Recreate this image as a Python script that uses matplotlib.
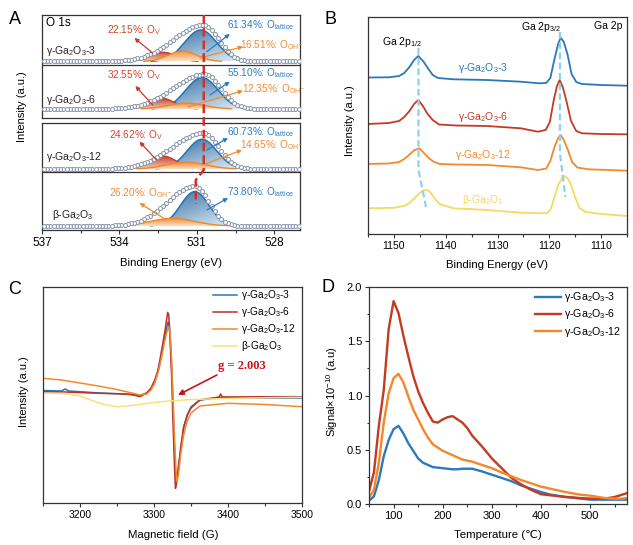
import numpy as np
import matplotlib
matplotlib.use("Agg")
import matplotlib.pyplot as plt
from matplotlib.patches import Polygon
from matplotlib.lines import Line2D
from matplotlib.ticker import MultipleLocator
from matplotlib.transforms import blended_transform_factory
from matplotlib.colors import to_rgb

plt.rcParams["font.family"] = ["Liberation Sans", "DejaVu Sans"]
plt.rcParams["mathtext.fontset"] = "custom"
plt.rcParams["mathtext.rm"] = "Liberation Sans"
plt.rcParams["mathtext.it"] = "Liberation Sans:italic"
plt.rcParams["mathtext.bf"] = "Liberation Sans:bold"
plt.rcParams["axes.linewidth"] = 0.9
plt.rcParams["axes.edgecolor"] = "#333333"


def ga(prefix, suffix=""):
    return prefix + "-Ga$_\\mathregular{2}$O$_\\mathregular{3}$" + suffix


names = [ga("γ", "-3"), ga("γ", "-6"), ga("γ", "-12"), ga("β")]

# ---- A: O 1s XPS fits (peak centre eV, height, width) ----
o1s_base = [56.5, 9, 61, 4]
o1s_group = [0, 0, 1, 1]
env_center = [530.75, 530.7, 530.75, 531.08]
env_height = [36.5, 35, 36, 40]
env_wl = [1.15, 1.2, 1.2, 1.05]
env_wr = [0.6, 0.62, 0.6, 0.55]
latt_center = [530.85, 530.8, 530.8, 531.08]
latt_height = [31.5, 31.5, 29.7, 34.3]
latt_width = [0.62, 0.62, 0.58, 0.55]
ov_center = [532.3, 532.36, 532.33, 532.3]
ov_height = [9.2, 10.7, 13, 0]
ov_width = [0.5, 0.5, 0.55, 0.5]
oh_center = [531.55, 531.4, 531.4, 531.93]
oh_height = [10.5, 6, 7, 7.7]
oh_width = [0.55, 0.7, 0.75, 0.85]
pct_ov = ["22.15%", "32.55%", "24.62%", None]
pct_latt = ["61.34%", "55.10%", "60.73%", "73.80%"]
pct_oh = ["16.51%", "12.35%", "14.65%", "26.20%"]

# ---- B: Ga 2p XPS ----
b3_e = [1155, 1151, 1149, 1148, 1147, 1146.1, 1145.3, 1144.3, 1143.4, 1142.5, 1141.5, 1138.5, 1132,
        1125.5, 1122, 1120.6, 1119.8, 1119, 1118.3, 1117.8, 1117.2, 1116.5, 1115.7, 1114.8, 1113.7, 1110, 1105]
b3_i = [156.5, 156.7, 158, 161, 167, 174, 178, 172.5, 165.5, 159, 156, 154.7, 154,
        152.3, 150.7, 151, 156, 175, 190, 196.3, 192, 180, 160, 152, 150, 149, 148.3]
b6_e = [1155, 1151, 1149, 1148, 1147, 1146.1, 1145.3, 1144.4, 1143.5, 1142.5, 1141.3, 1138, 1132,
        1125.5, 1122.2, 1120.7, 1119.9, 1119.1, 1118.5, 1118, 1117.4, 1116.7, 1115.8, 1114.8, 1113.7, 1110, 1105]
b6_i = [110, 111, 113, 117, 123, 130, 134, 128, 120, 114, 109.5, 108.5, 108,
        105.7, 102.3, 104, 112, 135, 148, 154, 147, 133, 113, 103, 100.7, 100, 99.7]
b12_e = [1155, 1151, 1149, 1148, 1147, 1146, 1145.1, 1144.2, 1143.3, 1142.4, 1141.2, 1138, 1132,
         1125.5, 1122.2, 1120.6, 1119.8, 1119, 1118.3, 1117.8, 1117.2, 1116.4, 1115.6, 1114.6, 1112.4, 1105]
b12_i = [70, 70.5, 72, 75, 79.5, 84, 85.7, 81, 76, 72.5, 70, 69.5, 69,
         66.7, 64, 65.5, 73, 87, 96, 99, 94, 84, 72, 66.5, 64.7, 63.3]
bb_e = [1155, 1150, 1148, 1147, 1146, 1145, 1144.3, 1143.7, 1143, 1142.2, 1141.2, 1138.5, 1132,
        1125.5, 1120.5, 1119.7, 1119, 1118.3, 1117.6, 1117.1, 1116.5, 1115.9, 1115.1, 1114.2, 1113, 1110, 1105]
bb_i = [25.7, 26.2, 28, 31, 36, 41, 43.5, 44, 42, 36, 30, 25.7, 24,
        21.3, 20.7, 25, 37, 49, 55.5, 58, 56, 50.7, 38, 26, 22, 20, 18]

# ---- C: EPR ----
c3_g = [3150, 3175, 3180, 3185, 3227, 3260, 3275, 3281, 3290, 3296, 3301, 3305, 3308, 3312, 3315, 3319,
        3321, 3323, 3325, 3327, 3329, 3330, 3332, 3336, 3340, 3345, 3350, 3362, 3390, 3450, 3500]
c3_i = [112.5, 112, 114, 112, 110, 109, 108.5, 107.5, 110, 114, 121, 130, 140, 156, 168, 181,
        175, 150, 115, 70, 30, 23, 30, 52, 75, 88, 96, 103, 105.5, 105, 105]
c6_g = [3150, 3180, 3227, 3260, 3272, 3281, 3290, 3296, 3301, 3305, 3308, 3312, 3315, 3318.5, 3320,
        3322, 3324, 3326, 3328, 3329, 3330.5, 3333, 3336, 3340, 3345, 3350, 3362, 3388, 3390, 3392, 3450, 3500]
c6_i = [111.3, 111, 109.7, 109, 108, 106.3, 110, 115, 123, 132, 143, 160, 173, 190.7, 188,
        160, 123, 73, 30, 14.7, 20, 36, 55, 76, 88, 95, 103, 106, 109, 106, 106.3, 106.3]
c12_g = [3150, 3175, 3200, 3225, 3250, 3270, 3281, 3290, 3296, 3301, 3306, 3310, 3314, 3317, 3320,
         3322, 3324, 3326, 3328, 3330, 3331, 3333, 3336, 3340, 3345, 3350, 3362, 3400, 3450, 3500]
c12_i = [124.7, 123, 120, 117, 113.5, 110, 108, 109, 113, 120, 132, 145, 160, 170, 176.3,
         168, 140, 100, 60, 28, 21.3, 28, 48, 68, 82, 90, 97, 99.7, 98.5, 96.3]
cb_g = [3150, 3180, 3200, 3215, 3230, 3250, 3270, 3300, 3320, 3350, 3400, 3450, 3500]
cb_i = [109.7, 109.5, 107, 103, 99, 96.3, 97.5, 100.5, 102, 103.5, 104.5, 105.3, 105.7]

# ---- D: TPD ----
tpd_t = [50, 60, 70, 80, 90, 100, 110, 120, 130, 140, 150, 160, 170, 180, 190, 200, 210, 220, 230,
         240, 250, 260, 280, 300, 320, 340, 360, 380, 400, 420, 450, 480, 500, 530, 550, 565, 575]
tpd_3 = [0.03, 0.07, 0.22, 0.44, 0.59, 0.69, 0.72, 0.65, 0.56, 0.49, 0.42, 0.38, 0.36, 0.34, 0.335,
         0.33, 0.325, 0.32, 0.32, 0.325, 0.325, 0.325, 0.30, 0.27, 0.24, 0.21, 0.17, 0.14, 0.11,
         0.086, 0.065, 0.05, 0.04, 0.04, 0.04, 0.04, 0.04]
tpd_6 = [0.117, 0.29, 0.72, 1.05, 1.61, 1.87, 1.76, 1.55, 1.36, 1.18, 1.04, 0.93, 0.84, 0.76, 0.75,
         0.78, 0.80, 0.81, 0.78, 0.75, 0.70, 0.63, 0.53, 0.42, 0.33, 0.24, 0.18, 0.13, 0.09, 0.08,
         0.065, 0.055, 0.05, 0.05, 0.065, 0.086, 0.10]
tpd_12 = [0.055, 0.13, 0.38, 0.75, 1.02, 1.16, 1.20, 1.12, 0.99, 0.87, 0.78, 0.69, 0.61, 0.55, 0.52,
          0.49, 0.47, 0.45, 0.43, 0.41, 0.40, 0.39, 0.36, 0.33, 0.29, 0.255, 0.22, 0.19, 0.16, 0.14,
          0.11, 0.086, 0.077, 0.055, 0.05, 0.05, 0.055]

BLUE, RED, ORANGE, YELLOW = "#2a78b8", "#c23b26", "#f28a2c", "#f7d862"

W, H = 633, 545
fig = plt.figure(figsize=(W / 100, H / 100), dpi=100)


def fx(px):
    return px / W


def fy(py):
    return 1 - py / H


def add_box(l, t, r, b):
    return fig.add_axes([l / W, 1 - b / H, (r - l) / W, (b - t) / H])


def style_ticks(ax, size):
    ax.tick_params(which="both", direction="out", width=0.8, color="#333333",
                   labelsize=size, pad=2)
    ax.tick_params(which="major", length=3)
    ax.tick_params(which="minor", length=1.8)


def gauss(x, c, h, w):
    return h * np.exp(-0.5 * ((x - c) / w) ** 2)


def grad_fill(ax, x, base, y, c_top, c_bot, z, tilt=0.0):
    keep = y > 0.25
    x, y = x[keep], y[keep]
    verts = np.column_stack([np.r_[x, x[::-1]], np.r_[base + y, np.full(x.size, base)]])
    patch = Polygon(verts, closed=True, fc="none", ec="none")
    ax.add_patch(patch)
    v = np.linspace(0, 1, 80)[:, None]
    u = np.linspace(0, 1, 80)[None, :]
    t = np.clip((1 - tilt) * v + tilt * u * 1.2 - tilt * 0.1, 0, 1)
    ct, cb = np.array(to_rgb(c_top)), np.array(to_rgb(c_bot))
    img = cb + t[..., None] * (ct - cb)
    im = ax.imshow(img, extent=[x.min(), x.max(), base, base + y.max()], origin="lower",
                   aspect="auto", interpolation="bilinear", zorder=z)
    im.set_clip_path(patch)
    return x, y


# ================= A =================
axA = [add_box(42, 15, 300, 118), add_box(42, 123, 300, 230)]
xf = np.linspace(527, 537, 700)
xm = np.arange(527.05, 537, 0.125)
lab_A = [
    # (ov label y, ov arrow, latt y, latt arrow, oh x, oh y, oh arrow, sample y)
    (88, (532.71, 65, 533.42, 80), 93, (530.61, 66.3, 529.72, 84), 529.33, 73, (530.88, 60, 529.21, 71.3), 67),
    (43, (532.71, 13, 533.38, 32), 44.7, (530.49, 23, 529.72, 36.3), 529.25, 28.7, (531.35, 11, 529.21, 27.3), 18),
    (95, (532.56, 70, 533.22, 88.3), 98.3, (530.61, 80, 529.79, 92), 529.33, 85, (530.77, 65, 529.25, 80), 73.3),
    (None, None, 38.3, (530.61, 20, 529.79, 32), 534.39, 37, (532.17, 10, 533.22, 27), 15),
]
for i in range(4):
    ax = axA[o1s_group[i]]
    b = o1s_base[i]
    lat = gauss(xf, latt_center[i], latt_height[i], latt_width[i])
    xx, yy = grad_fill(ax, xf, b, lat, "#2c6aa0", "#e2eef8", 2, tilt=0.45)
    ax.plot(xx, b + yy, color="#2473b5", lw=1.1, zorder=2.1)
    if ov_height[i] > 0:
        ov = gauss(xf, ov_center[i], ov_height[i], ov_width[i])
        xx, yy = grad_fill(ax, xf, b, ov, "#c64330", "#f5cbbb", 3)
        ax.plot(xx, b + yy, color="#c43c2a", lw=1.0, zorder=3.1)
    oh = gauss(xf, oh_center[i], oh_height[i], oh_width[i])
    xx, yy = grad_fill(ax, xf, b, oh, "#f0893a", "#fde0bf", 4)
    ax.plot(xx, b + yy, color="#f08628", lw=1.0, zorder=4.1)
    w = np.where(xm > env_center[i], env_wl[i], env_wr[i])
    env = env_height[i] * np.exp(-0.5 * ((xm - env_center[i]) / w) ** 2)
    ax.plot(xm, b + env, "o", ms=2.9, mfc="white", mec="#8e9bb0", mew=0.75, zorder=5)

    ovy, ova, lay, laa, ohx, ohy, oha, sy = lab_A[i]
    kw = dict(fontsize=7.2, va="center", ha="left", zorder=8)
    if ovy is not None:
        ax.text(534.47 if i < 2 else 534.39, ovy, pct_ov[i] + ": O$_\\mathregular{V}$", color="#d2452b", **kw)
        ax.annotate("", xy=ova[2:], xytext=ova[:2], zorder=7,
                    arrowprops=dict(arrowstyle="-|>", color="#c8372a", lw=0.9, mutation_scale=6,
                                    shrinkA=0, shrinkB=0))
    ax.text(529.83, lay, pct_latt[i] + ": O$_\\mathregular{lattice}$", color="#2a7cc0", **kw)
    ax.annotate("", xy=laa[2:], xytext=laa[:2], zorder=7,
                arrowprops=dict(arrowstyle="-|>", color="#2a7cc0", lw=0.9, mutation_scale=6,
                                shrinkA=0, shrinkB=0))
    ax.text(ohx, ohy, pct_oh[i] + ": O$_\\mathregular{OH^-}$", color="#f08a30", **kw)
    ax.annotate("", xy=oha[2:], xytext=oha[:2], zorder=7,
                arrowprops=dict(arrowstyle="-|>", color="#f08a30", lw=0.9, mutation_scale=6,
                                shrinkA=0, shrinkB=0))
    ax.text(536.84 if i < 3 else 536.6, sy, names[i], fontsize=7.5, color="#222222",
            va="center", ha="left", zorder=8)

axA[0].axhline(53, color="#333333", lw=0.9, zorder=9)
axA[1].axhline(58, color="#333333", lw=0.9, zorder=9)
axA[0].text(536.84, 95, "O 1s", fontsize=8.5, va="center", ha="left")
axA[0].set_ylim(0, 103)
axA[1].set_ylim(0, 107)
for ax in axA:
    ax.set_xlim(537, 527)
    ax.set_yticks([])
axA[0].set_xticks([])
axA[1].set_xticks([537, 534, 531, 528])
axA[1].xaxis.set_minor_locator(MultipleLocator(1.5))
style_ticks(axA[1], 8.5)

trA = blended_transform_factory(axA[0].transData, fig.transFigure)
fig.add_artist(Line2D([530.73, 530.73, 531.04, 531.04], [fy(15), fy(170), fy(180), fy(204)],
                      transform=trA, color="#d4302a", lw=1.8, ls=(0, (3.5, 1.6)), zorder=10))

# ================= B =================
axB = add_box(368, 17, 627, 234)
for e, v, c in [(b3_e, b3_i, BLUE), (b6_e, b6_i, RED), (b12_e, b12_i, ORANGE), (bb_e, bb_i, YELLOW)]:
    axB.plot(e, v, color=c, lw=1.3)
dash = dict(color="#8fd0ea", lw=1.6, ls=(0, (3, 1.6)), zorder=5)
axB.plot([1145.25, 1145.25, 1143.8], [186, 64, 27], **dash)
axB.plot([1117.95, 1117.95, 1116.9], [202, 81, 37], **dash)
for s, y, c in zip(names, [166, 117, 79, 34], [BLUE, RED, ORANGE, YELLOW]):
    axB.text(1132.8, y, s, color=c, fontsize=7.5, ha="center", va="center")
axB.text(1148.4, 192, "Ga 2p$_\\mathregular{1/2}$", fontsize=7.5, ha="center", va="center")
axB.text(1121.6, 207, "Ga 2p$_\\mathregular{3/2}$", fontsize=7.5, ha="center", va="center")
axB.text(1108.7, 208, "Ga 2p", fontsize=7.5, ha="center", va="center")
axB.set_xlim(1155, 1105)
axB.set_ylim(0, 217)
axB.set_yticks([])
axB.set_xticks([1150, 1140, 1130, 1120, 1110])
axB.xaxis.set_minor_locator(MultipleLocator(5))
style_ticks(axB, 7.5)

# ================= C =================
axC = add_box(43, 287, 302, 503)
axC.plot(c3_g, c3_i, color="#2d74b5", lw=1.1, label=names[0])
axC.plot(c6_g, c6_i, color="#b8312a", lw=1.1, label=names[1])
axC.plot(c12_g, c12_i, color="#f08a2a", lw=1.1, label=names[2])
axC.plot(cb_g, cb_i, color="#f8e27a", lw=1.1, label=names[3])
axC.text(3419, 137, "g = 2.003", family="Liberation Serif", fontweight="bold", color="#c8151b",
         fontsize=9, ha="center", va="center")
axC.annotate("", xy=(3332.4, 108), xytext=(3385, 128),
             arrowprops=dict(arrowstyle="-|>", color="#c8151b", lw=1.2, mutation_scale=8,
                             shrinkA=0, shrinkB=0))
axC.set_xlim(3150, 3500)
axC.set_ylim(0, 216)
axC.set_yticks([])
axC.set_xticks([3200, 3300, 3400, 3500])
axC.xaxis.set_minor_locator(MultipleLocator(50))
style_ticks(axC, 7.5)
axC.legend(loc="upper left", bbox_to_anchor=((213 - 43) / 259, 0.995), frameon=False, fontsize=7.3,
           handlelength=2.4, handletextpad=0.35, labelspacing=0.3, borderpad=0, borderaxespad=0)

# ================= D =================
axD = add_box(369, 287, 627, 504)
axD.plot(tpd_t, tpd_3, color="#2b7bba", lw=1.7, label=names[0])
axD.plot(tpd_t, tpd_6, color="#c23b22", lw=1.7, label=names[1])
axD.plot(tpd_t, tpd_12, color="#f5862a", lw=1.7, label=names[2])
axD.set_xlim(50, 575)
axD.set_ylim(0, 2.0)
axD.xaxis.set_major_locator(MultipleLocator(100))
axD.xaxis.set_minor_locator(MultipleLocator(50))
axD.yaxis.set_major_locator(MultipleLocator(0.5))
axD.yaxis.set_minor_locator(MultipleLocator(0.25))
axD.yaxis.set_major_formatter(matplotlib.ticker.FormatStrFormatter("%.1f"))
style_ticks(axD, 8)
axD.legend(loc="upper left", bbox_to_anchor=((535 - 369) / 258, 0.985), frameon=False, fontsize=7.7,
           handlelength=2.4, handletextpad=0.35, labelspacing=0.3, borderpad=0, borderaxespad=0)

# ================= labels =================
for s, x, y in [("A", 15, 19), ("B", 330, 19), ("C", 15, 289), ("D", 328, 288)]:
    fig.text(fx(x), fy(y), s, fontsize=13, ha="center", va="center")
for s, x, y in [("Binding Energy (eV)", 171, 263), ("Binding Energy (eV)", 497, 265),
                ("Magnetic field (G)", 173, 535), ("Temperature (℃)", 498, 535)]:
    fig.text(fx(x), fy(y), s, fontsize=8.2, ha="center", va="center")
for s, x, y in [("Intensity (a.u.)", 22, 107), ("Intensity (a.u.)", 350, 121),
                ("Intensity (a.u.)", 24, 392), ("Signal×10$^\\mathregular{-10}$ (a.u)", 332, 392)]:
    fig.text(fx(x), fy(y), s, fontsize=8, ha="center", va="center", rotation=90)

fig.savefig("out.png", dpi=100)
